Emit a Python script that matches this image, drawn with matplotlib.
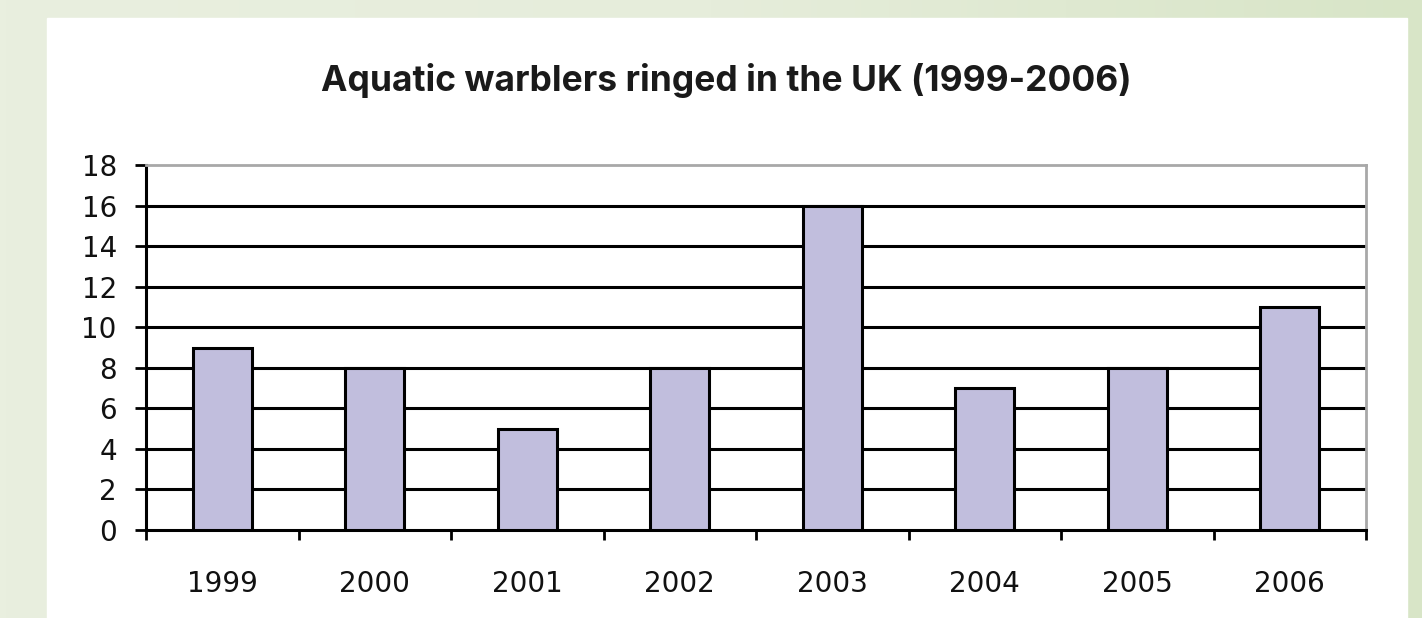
import numpy as np
import matplotlib
matplotlib.use('Agg')
import matplotlib.pyplot as plt
from matplotlib.patches import Rectangle

years = ['1999', '2000', '2001', '2002', '2003', '2004', '2005', '2006']
ringed = [9, 8, 5, 8, 16, 7, 8, 11]
yticks = list(range(0, 19, 2))

W, H = 1422, 618
fig = plt.figure(figsize=(W/100, H/100), dpi=100)

# greenish gradient backdrop + white card
bg = fig.add_axes([0, 0, 1, 1], zorder=-10)
grad = np.linspace(0, 1, 256).reshape(1, -1)
bg.imshow(grad, aspect='auto', extent=[0, 1, 0, 1],
          cmap=matplotlib.colors.LinearSegmentedColormap.from_list('g', ['#e9efdf', '#e6eddb', '#d8e5c7']))
bg.add_patch(Rectangle((47/W, 0), (1407-47)/W, (H-18)/H, color='white', transform=bg.transAxes))
bg.set_xlim(0, 1); bg.set_ylim(0, 1); bg.axis('off')

fig.text(726/W, 1-80/H, 'Aquatic warblers ringed in the UK (1999-2006)',
         ha='center', va='center', fontsize=25.5, fontweight='bold',
         family=['Inter', 'DejaVu Sans'], color='#1a1a1a')

left, right, top, bottom = 146, 1366, 165, 530
ax = fig.add_axes([left/W, 1-bottom/H, (right-left)/W, (bottom-top)/H])
x = np.arange(len(years))
ax.bar(x, ringed, width=0.39, color='#c1bedd', edgecolor='black', linewidth=2.2, zorder=3)
for v in yticks[1:-1]:
    ax.axhline(v, color='black', lw=2.2, zorder=1)
ax.set_xlim(-0.5, len(years)-0.5)
ax.set_ylim(0, 18)
ax.set_yticks(yticks)
ax.set_yticklabels([str(v) for v in yticks], fontsize=20, family='DejaVu Sans', color='#111111')
ax.set_xticks(x)
ax.set_xticklabels(years, fontsize=20, family='DejaVu Sans', color='#111111')
ax.tick_params(axis='x', length=0, pad=29)
ax.set_xticks(np.arange(-0.5, len(years)), minor=True)
ax.tick_params(axis='x', which='minor', length=7, width=2, direction='out', color='black')
ax.tick_params(axis='y', length=8, width=2, direction='out', pad=13)
for s in ['left', 'bottom']:
    ax.spines[s].set_linewidth(2.2)
    ax.spines[s].set_color('black')
for s in ['top', 'right']:
    ax.spines[s].set_linewidth(2)
    ax.spines[s].set_color('#a8a8a8')
ax.set_facecolor('white')

plt.savefig('out.png', dpi=100)
